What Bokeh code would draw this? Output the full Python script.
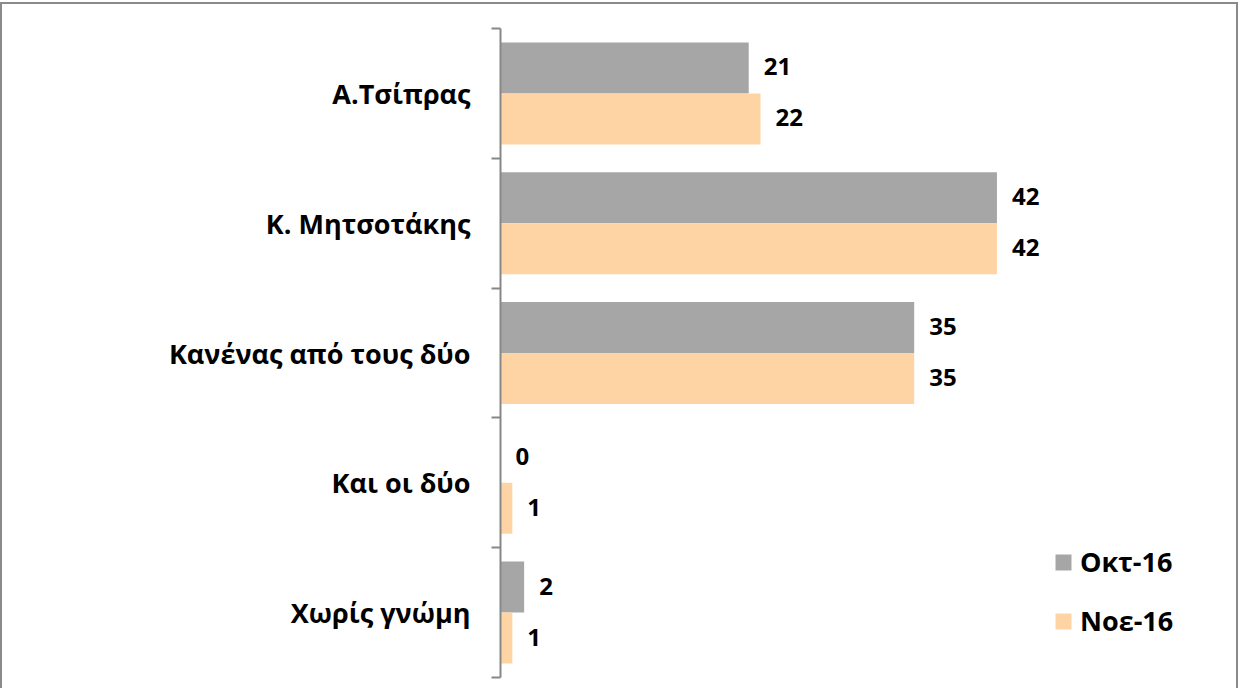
from bokeh.plotting import figure
from bokeh.models import (Range1d, LinearAxis, FixedTicker,
                          ColumnDataSource, Legend, LegendItem, LabelSet)
from bokeh.transform import dodge
from bokeh.core.properties import value
from bokeh.embed import file_html
from bokeh.resources import INLINE

categories = ["Α.Τσίπρας", "Κ. Μητσοτάκης", "Κανένας από τους δύο", "Και οι δύο", "Χωρίς γνώμη"]
series_names = ["Οκτ-16", "Νοε-16"]
oct16 = [21, 42, 35, 0, 2]
nov16 = [22, 42, 35, 1, 1]
colors = ["#A6A6A6", "#FFD4A4"]

FONT = "Open Sans"
FS_CAT = "27px"
FS_VAL = "24px"
FS_LEG = "27px"

n = len(categories)
centers = [n - 1 - i + 0.5 for i in range(n)]   # top category first
bounds = list(range(n + 1))

p = figure(width=1238, height=686, output_backend="svg", toolbar_location=None,
           y_range=Range1d(0, n), x_range=Range1d(0, 61.76),
           x_axis_location=None, y_axis_location=None,
           min_border_left=498, min_border_right=10, min_border_top=24, min_border_bottom=13)
p.styles = {"border-top": "2px solid #8a8a8a", "border-left": "2px solid #8a8a8a",
            "border-right": "2px solid #8a8a8a", "margin-top": "2px"}
p.outline_line_color = None
p.xgrid.visible = False
p.ygrid.visible = False
p.background_fill_color = "white"

cat_axis = LinearAxis(ticker=FixedTicker(ticks=centers, minor_ticks=bounds),
                      major_label_overrides={c: name for c, name in zip(centers, categories)},
                      major_tick_out=0, major_tick_in=0, minor_tick_out=9, minor_tick_in=0,
                      axis_line_color="#878787", axis_line_width=2,
                      major_tick_line_color=None,
                      minor_tick_line_color="#878787", minor_tick_line_width=2,
                      major_label_standoff=21,
                      major_label_text_font=FONT, major_label_text_font_style="bold",
                      major_label_text_font_size=FS_CAT, major_label_text_color="black")
p.add_layout(cat_axis, "left")

src = ColumnDataSource(dict(y=centers, oct=oct16, nov=nov16,
                            oct_l=[str(v) for v in oct16], nov_l=[str(v) for v in nov16]))

bh = 0.393
off = bh / 2
r1 = p.hbar(y=dodge("y", off), right="oct", left=0, height=bh,
            source=src, fill_color=colors[0], line_color=None)
r2 = p.hbar(y=dodge("y", -off), right="nov", left=0, height=bh,
            source=src, fill_color=colors[1], line_color=None)

for col, lab, o in [("oct", "oct_l", off), ("nov", "nov_l", -off)]:
    ls = LabelSet(x=col, y=dodge("y", o), text=lab, source=src,
                  x_offset=15, y_offset=1, text_baseline="middle", text_align="left",
                  text_font=value(FONT), text_font_style="bold", text_font_size=FS_VAL,
                  text_color="black")
    p.add_layout(ls)

legend = Legend(items=[LegendItem(label=series_names[0], renderers=[r1]),
                       LegendItem(label=series_names[1], renderers=[r2])],
                location=(553, 38), orientation="vertical",
                glyph_width=20, glyph_height=20, label_height=20, spacing=22,
                label_standoff=7, padding=0, margin=0,
                border_line_color=None, background_fill_alpha=0,
                label_text_font=FONT, label_text_font_style="bold",
                label_text_font_size=FS_LEG, label_text_color="black")
p.add_layout(legend)

open("out.html", "w").write(file_html(p, INLINE))
